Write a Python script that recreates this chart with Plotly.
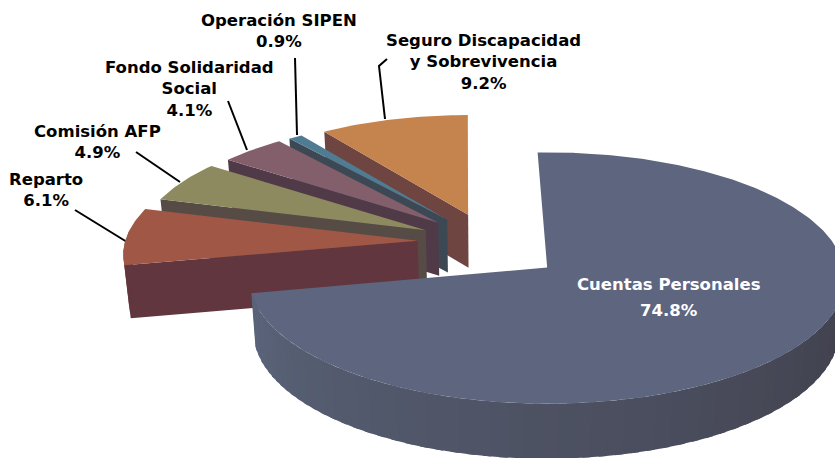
import numpy as np
import plotly.graph_objects as go

labels = ["Cuentas Personales", "Reparto", "Comisión AFP", "Fondo Solidaridad<br>Social", "Operación SIPEN", "Seguro Discapacidad<br>y Sobrevivencia"]
values = [74.8, 6.1, 4.9, 4.1, 0.9, 9.2]
top_colors = ["#5d657f", "#a05746", "#8e8a5f", "#825f6b", "#4f7b93", "#c5834d"]
cut_colors = ["#5d657f", "#61363f", "#574b45", "#503a48", "#3c4955", "#6e4540"]

# projection of the tilted pie
CENTER = (492.0, 245.5)
PULL = (75.0, 32.5)
FX = 294.0
BACK_PROJ = (119.4, 0.1157)   # RY, K for the slices pulled backwards
FRONT_PROJ = (123.6, 0.084)   # RY, K for the large front slice
START = -2.0
DEPTH = 53.0
BOTTOM_SHRINK = 0.983

def warp(t):
    d = t - 9.0 * np.exp(-((t - 265.0) / 24.0) ** 2)
    if t > 300:
        d += 2.0 * np.exp(-((t - 360.0) / 10.0) ** 2)
    return d

def top_pt(t, apex, s, proj):
    r = np.radians(warp(t))
    u, v = np.sin(r), np.cos(r)
    w = 1 + proj[1] * v
    return apex[0] + s * FX * u / w, apex[1] - s * proj[0] * v / w

def drop(p, v=0.0):
    return CENTER[0] + (p[0] - CENTER[0]) * BOTTOM_SHRINK, p[1] + DEPTH - 2 * v

def poly(fig, pts, color):
    xs = [p[0] for p in pts] + [pts[0][0]]
    ys = [p[1] for p in pts] + [pts[0][1]]
    fig.add_trace(go.Scatter(x=xs, y=ys, mode="lines", fill="toself", fillcolor=color,
                             line=dict(color=color, width=0), hoverinfo="skip", showlegend=False))

def wall_color(t):
    # left side of the rim is lit, the right side falls into shade
    f = np.clip((270.0 - t) / 180.0, 0, 1)
    a, b = np.array([0x5b, 0x65, 0x7b]), np.array([0x40, 0x3f, 0x4b])
    c = a + (b - a) * f
    return "rgb(%d,%d,%d)" % tuple(c)

fig = go.Figure()

# leader lines
leaders = [
    ([387, 379, 385], [59, 66, 119]),
    ([295, 297], [58, 135]),
    ([228, 247], [101, 150]),
    ([136, 180], [152, 182]),
    ([75, 127], [210, 242]),
]
for lx, ly in leaders:
    fig.add_trace(go.Scatter(x=lx, y=ly, mode="lines", line=dict(color="#000000", width=2),
                             hoverinfo="skip", showlegend=False))

total = sum(values)
spans = []
a = START
for val in values:
    b = a + 360.0 * val / total
    spans.append((a, b))
    a = b

# painter's order: back slices first, the big front slice last
for i in [5, 4, 3, 2, 1, 0]:
    a, b = spans[i]
    mid = np.radians((a + b) / 2)
    apex = (CENTER[0] + PULL[0] * np.sin(mid), CENTER[1] - PULL[1] * np.cos(mid))
    s = 1.01 if i == 0 else 1 - 0.08 * max(0.0, np.cos(mid) - 0.08)
    proj = FRONT_PROJ if i == 0 else BACK_PROJ
    if i != 0:
        # radial cut face on the lower edge
        p = top_pt(a, apex, s, proj)
        poly(fig, [apex, p, drop(p), drop(apex)], cut_colors[i])
    # outer rim, front half only; strips overlap so that no seams show
    ts = np.arange(a, b + 3.0, 3.0)
    ts = np.minimum(ts, b)
    for t0, t1 in zip(ts[:-1], ts[1:]):
        tm = (t0 + t1) / 2
        if np.cos(np.radians(warp(tm))) < 0.05:
            t2 = min(t1 + 1.5, b)
            p0, p1 = top_pt(t0, apex, s, proj), top_pt(t2, apex, s, proj)
            v0 = np.cos(np.radians(warp(t0)))
            v1 = np.cos(np.radians(warp(t2)))
            col = wall_color(tm) if i == 0 else cut_colors[i]
            poly(fig, [p0, p1, drop(p1, v1), drop(p0, v0)], col)
    # top face
    arc = [top_pt(t, apex, s, proj) for t in np.linspace(a, b, max(8, int((b - a) * 1.5)))]
    poly(fig, [apex] + arc, top_colors[i])

# label blocks: centre x, centre y, colour
placements = {
    1: (46, 189.5, "#000000"),
    2: (97, 141.5, "#000000"),
    3: (189, 88.5, "#000000"),
    4: (279, 31, "#000000"),
    5: (483, 62, "#000000"),
}
FONT = "DejaVu Sans"
SIZE = 16.5
for i, (cx, cy, col) in placements.items():
    fig.add_annotation(x=cx, y=cy, text="<b>%s<br>%.1f%%</b>" % (labels[i], values[i]), showarrow=False,
                       xanchor="center", yanchor="middle", align="center",
                       font=dict(family=FONT, size=SIZE, color=col))
fig.add_annotation(x=669, y=284, text="<b>%s</b>" % labels[0], showarrow=False, xanchor="center", yanchor="middle",
                   font=dict(family=FONT, size=SIZE, color="#ffffff"))
fig.add_annotation(x=669, y=310, text="<b>%.1f%%</b>" % values[0], showarrow=False, xanchor="center", yanchor="middle",
                   font=dict(family=FONT, size=SIZE, color="#ffffff"))

fig.update_layout(
    width=835, height=458, margin=dict(l=0, r=0, t=0, b=0),
    paper_bgcolor="#ffffff", plot_bgcolor="#ffffff", showlegend=False,
    xaxis=dict(range=[0, 835], visible=False, fixedrange=True),
    yaxis=dict(range=[458, 0], visible=False, fixedrange=True),
)
fig.write_html("out.html", config={"displayModeBar": False},
               post_script="document.body.style.margin='0';document.body.style.overflow='hidden';")
